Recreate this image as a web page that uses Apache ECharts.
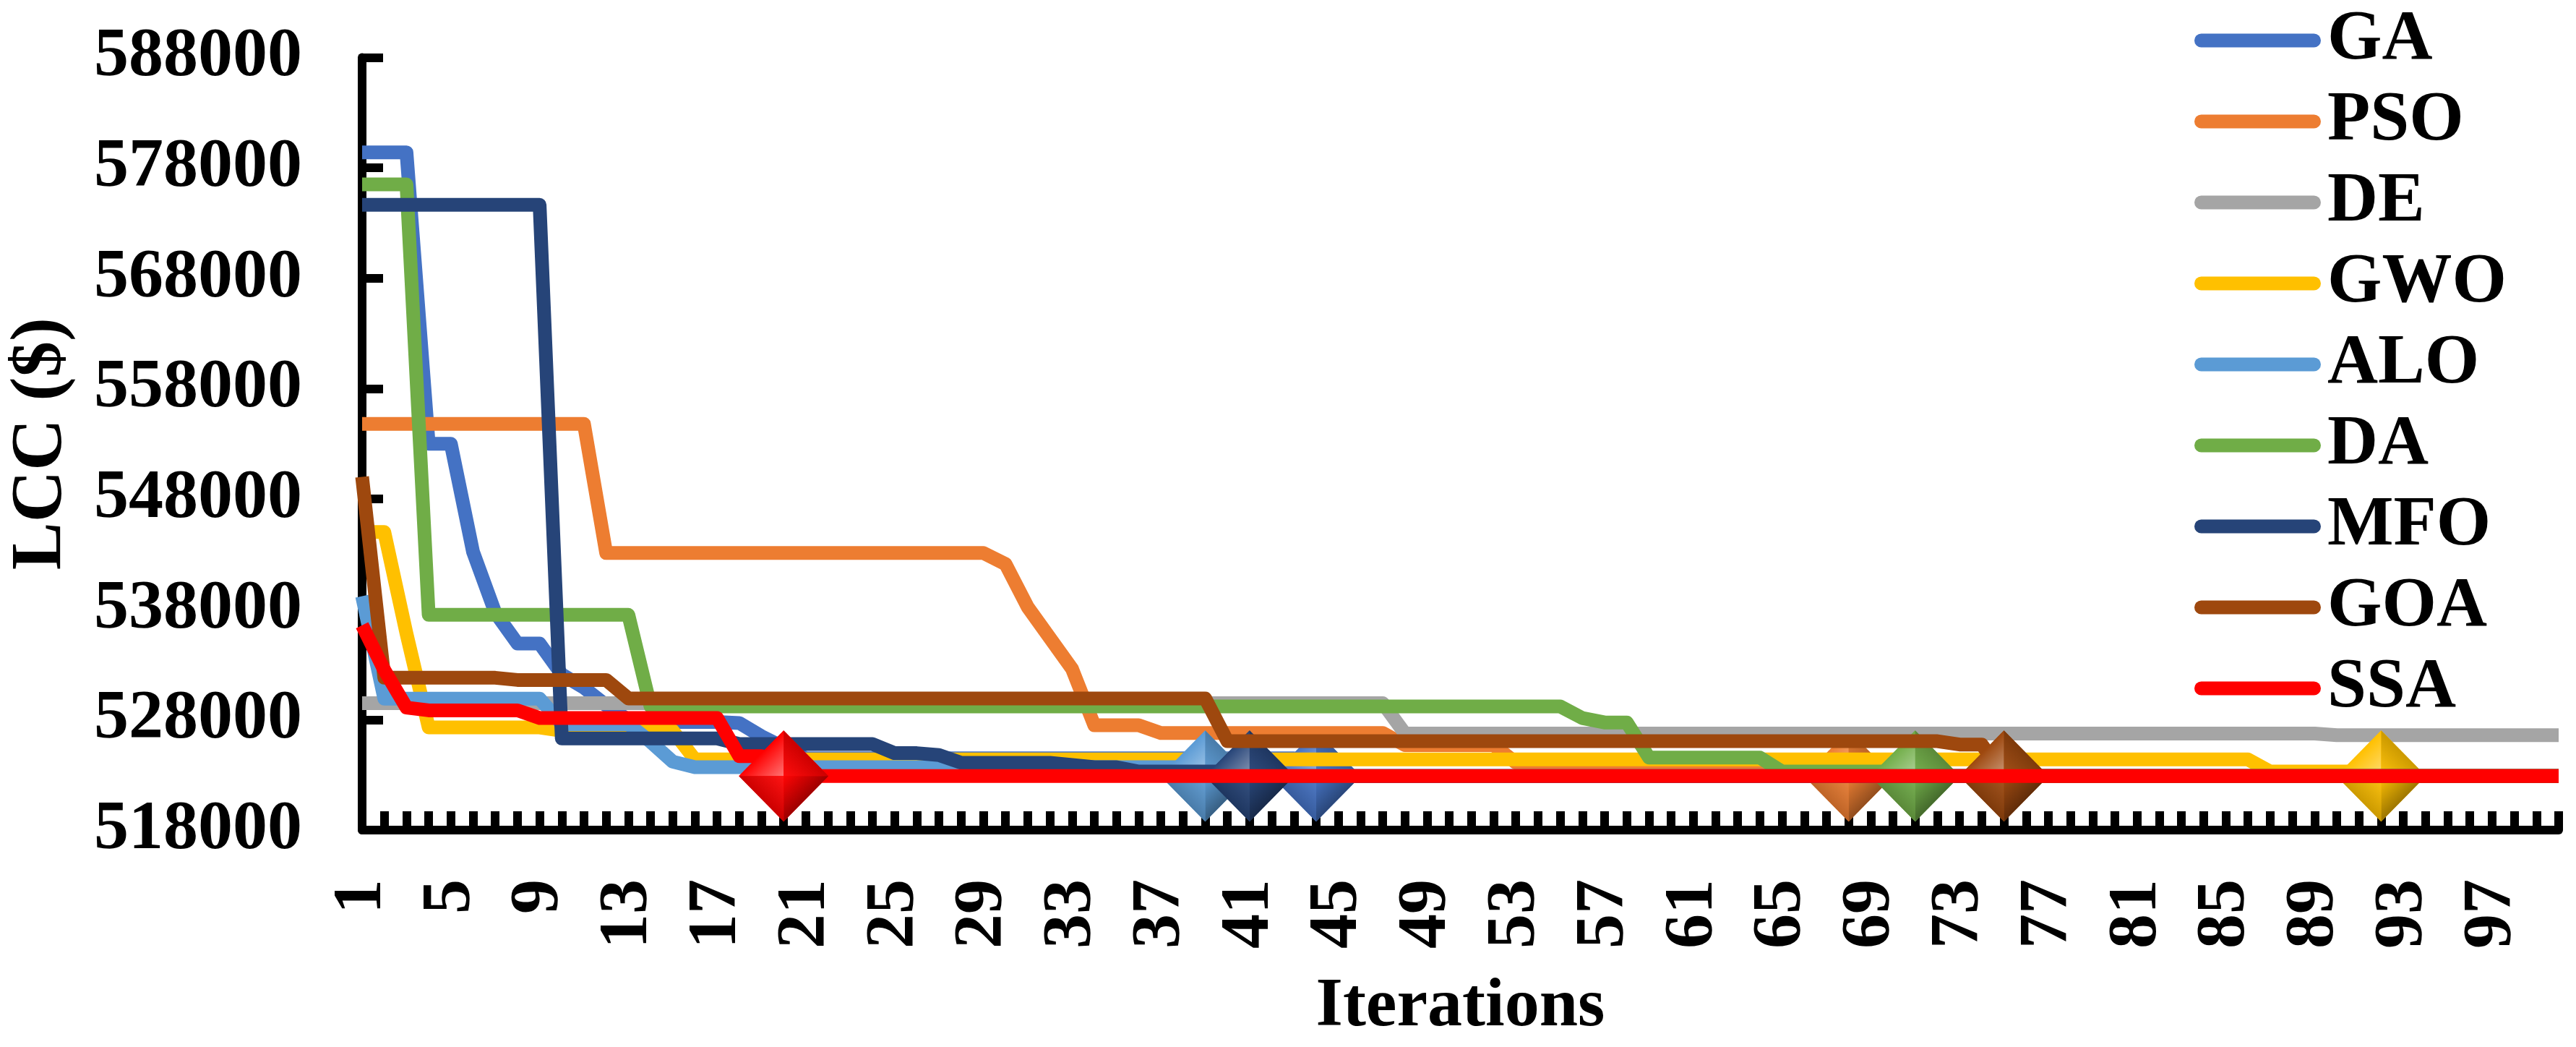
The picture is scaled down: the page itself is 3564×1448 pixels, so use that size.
<!DOCTYPE html>
<html><head><meta charset="utf-8">
<style>html,body{margin:0;padding:0;background:#fff}#c{width:3564px;height:1448px}</style>
<script src="https://cdn.jsdelivr.net/npm/echarts@6/dist/echarts.min.js"></script>
</head><body><div id="c"></div>
<script>
const iterations = ['1','2','3','4','5','6','7','8','9','10','11','12','13','14','15','16','17','18','19','20',
'21','22','23','24','25','26','27','28','29','30','31','32','33','34','35','36','37','38','39','40',
'41','42','43','44','45','46','47','48','49','50','51','52','53','54','55','56','57','58','59','60',
'61','62','63','64','65','66','67','68','69','70','71','72','73','74','75','76','77','78','79','80',
'81','82','83','84','85','86','87','88','89','90','91','92','93','94','95','96','97','98','99','100'];

const GA = [579400,579400,579400,553000,553000,543200,537700,534900,534900,532100,
530900,529300,528000,527800,527800,527800,527800,527700,526500,525500,
524500,524500,524500,524500,524500,524500,524500,524500,524500,524500,
524500,524500,524500,524500,524500,524500,524500,524500,524500,524500,
524500,524500,524500,522900,522900,522900,522900,522900,522900,522900,
522900,522900,522900,522900,522900,522900,522900,522900,522900,522900,
522900,522900,522900,522900,522900,522900,522900,522900,522900,522900,
522900,522900,522900,522900,522900,522900,522900,522900,522900,522900,
522900,522900,522900,522900,522900,522900,522900,522900,522900,522900,
522900,522900,522900,522900,522900,522900,522900,522900,522900,522900];

const PSO = [554800,554800,554800,554800,554800,554800,554800,554800,554800,554800,
554800,543100,543100,543100,543100,543100,543100,543100,543100,543100,
543100,543100,543100,543100,543100,543100,543100,543100,543100,542100,
538200,535400,532600,527500,527500,527500,526800,526800,526800,526800,
526800,526800,526800,526800,526800,526800,526800,525700,525700,525700,
525700,525700,524100,524100,524100,524100,524100,524100,524100,524100,
524100,524100,524100,524100,524100,524100,524100,522900,522900,522900,
522900,522900,522900,522900,522900,522900,522900,522900,522900,522900,
522900,522900,522900,522900,522900,522900,522900,522900,522900,522900,
522900,522900,522900,522900,522900,522900,522900,522900,522900,522900];

const DE = [529500,529500,529500,529500,529500,529500,529500,529500,529500,529500,
529500,529500,529500,529500,529500,529500,529500,529500,529500,529500,
529500,529500,529500,529500,529500,529500,529500,529500,529500,529500,
529500,529500,529500,529500,529500,529500,529500,529500,529500,529500,
529500,529500,529500,529500,529500,529500,529500,526750,526750,526750,
526750,526750,526750,526750,526750,526750,526750,526750,526750,526750,
526750,526750,526750,526750,526750,526750,526750,526750,526750,526750,
526750,526750,526750,526750,526750,526750,526750,526750,526750,526750,
526750,526750,526750,526750,526750,526750,526750,526750,526750,526600,
526600,526600,526600,526600,526600,526600,526600,526600,526600,526600];

const GWO = [545000,545000,535800,527300,527300,527300,527300,527300,527300,527000,
527000,527000,527000,527000,527000,524400,524400,524400,524400,524400,
524400,524400,524400,524400,524400,524400,524400,524400,524400,524400,
524400,524400,524400,524400,524400,524400,524400,524400,524400,524400,
524400,524400,524400,524400,524400,524400,524400,524400,524400,524400,
524400,524400,524400,524400,524400,524400,524400,524400,524400,524400,
524400,524400,524400,524400,524400,524400,524400,524400,524400,524400,
524400,524400,524400,524400,524400,524400,524400,524400,524400,524400,
524400,524400,524400,524400,524400,524400,523300,523300,523300,523300,
523300,522900,522900,522900,522900,522900,522900,522900,522900,522900];

const ALO = [539200,529900,529900,529900,529900,529900,529900,529900,529900,527600,
527600,527600,527600,526000,524200,523700,523700,523700,523700,523700,
523700,523700,523700,523700,523700,523700,523700,523700,523700,523700,
523700,523700,523700,523700,523700,523700,523700,523700,522900,522900,
522900,522900,522900,522900,522900,522900,522900,522900,522900,522900,
522900,522900,522900,522900,522900,522900,522900,522900,522900,522900,
522900,522900,522900,522900,522900,522900,522900,522900,522900,522900,
522900,522900,522900,522900,522900,522900,522900,522900,522900,522900,
522900,522900,522900,522900,522900,522900,522900,522900,522900,522900,
522900,522900,522900,522900,522900,522900,522900,522900,522900,522900];

const DA = [576500,576500,576500,537500,537500,537500,537500,537500,537500,537500,
537500,537500,537500,529200,529200,529200,529200,529200,529200,529200,
529200,529200,529200,529200,529200,529200,529200,529200,529200,529200,
529200,529200,529200,529200,529200,529200,529200,529200,529200,529200,
529200,529200,529200,529200,529200,529200,529200,529200,529200,529200,
529200,529200,529200,529200,529200,528150,527750,527750,524570,524570,
524570,524570,524570,524570,523300,523300,523300,523300,523300,523300,
522900,522900,522900,522900,522900,522900,522900,522900,522900,522900,
522900,522900,522900,522900,522900,522900,522900,522900,522900,522900,
522900,522900,522900,522900,522900,522900,522900,522900,522900,522900];

const MFO = [574650,574650,574650,574650,574650,574650,574650,574650,574650,526300,
526300,526300,526300,526300,526300,526300,526300,525800,525800,525800,
525800,525800,525800,525800,524970,524970,524800,524100,524100,524100,
524100,524100,523900,523700,523700,523300,523300,523300,523300,523300,
522900,522900,522900,522900,522900,522900,522900,522900,522900,522900,
522900,522900,522900,522900,522900,522900,522900,522900,522900,522900,
522900,522900,522900,522900,522900,522900,522900,522900,522900,522900,
522900,522900,522900,522900,522900,522900,522900,522900,522900,522900,
522900,522900,522900,522900,522900,522900,522900,522900,522900,522900,
522900,522900,522900,522900,522900,522900,522900,522900,522900,522900];

const GOA = [550000,531800,531800,531800,531800,531800,531800,531600,531600,531600,
531600,531600,529930,529930,529930,529930,529930,529930,529930,529930,
529930,529930,529930,529930,529930,529930,529930,529930,529930,529930,
529930,529930,529930,529930,529930,529930,529930,529930,529930,526050,
526050,526050,526050,526050,526050,526050,526050,526050,526050,526050,
526050,526050,526050,526050,526050,526050,526050,526050,526050,526050,
526050,526050,526050,526050,526050,526050,526050,526050,526050,526050,
526050,526050,525750,525750,522900,522900,522900,522900,522900,522900,
522900,522900,522900,522900,522900,522900,522900,522900,522900,522900,
522900,522900,522900,522900,522900,522900,522900,522900,522900,522900];

const SSA = [536550,532500,529100,528850,528850,528850,528850,528850,528160,528160,
528160,528160,528160,528160,528160,528160,528160,524700,524700,522900,
522900,522900,522900,522900,522900,522900,522900,522900,522900,522900,
522900,522900,522900,522900,522900,522900,522900,522900,522900,522900,
522900,522900,522900,522900,522900,522900,522900,522900,522900,522900,
522900,522900,522900,522900,522900,522900,522900,522900,522900,522900,
522900,522900,522900,522900,522900,522900,522900,522900,522900,522900,
522900,522900,522900,522900,522900,522900,522900,522900,522900,522900,
522900,522900,522900,522900,522900,522900,522900,522900,522900,522900,
522900,522900,522900,522900,522900,522900,522900,522900,522900,522900];

const seriesNames = ['GA','PSO','DE','GWO','ALO','DA','MFO','GOA','SSA'];
const seriesValues = [GA,PSO,DE,GWO,ALO,DA,MFO,GOA,SSA];
const seriesColors = ['#4472C4','#ED7D31','#A5A5A5','#FFC000','#5B9BD5','#70AD47','#264478','#9E480E','#FF0000'];
// iteration at which each algorithm converges (DE has no marker in the figure)
const convergedAt = [44,68,null,92,39,71,41,75,20];

const FONT = 'Liberation Serif';

function mix(hex, f) { // f<1 darkens, f>1 lightens toward white
  const n = parseInt(hex.slice(1),16), rgb=[n>>16,(n>>8)&255,n&255];
  const out = rgb.map(v => Math.round(f<=1 ? v*f : v+(255-v)*(f-1)));
  return 'rgb('+out.join(',')+')';
}
function grad(x,y,x2,y2,stops){
  return {type:'linear',x,y,x2,y2,colorStops:stops.map((c,i)=>({offset:i/(stops.length-1),color:c}))};
}
function diamondRenderer(color){
  return function(params, api){
    const c = api.coord([api.value(0), api.value(1)]);
    const hw = 62, hh = 63, cx=c[0], cy=c[1];
    const T=[cx,cy-hh], B=[cx,cy+hh], L=[cx-hw,cy], R=[cx+hw,cy], C=[cx,cy];
    const face=(pts,fill)=>({type:'polygon',shape:{points:pts},style:{fill,stroke:null},silent:true});
    return {type:'group',children:[
      face([T,L,B,R],color),
      face([T,L,C],grad(0,0,1,1,[mix(color,0.95),mix(color,1.0),mix(color,1.45)])),
      face([T,R,C],grad(1,0,0,1,[mix(color,0.68),mix(color,0.8),mix(color,1.05)])),
      face([L,B,C],grad(0,1,1,0,[mix(color,0.42),mix(color,0.8),mix(color,1.08)])),
      face([R,B,C],grad(1,1,0,0,[mix(color,0.32),mix(color,0.62),mix(color,1.02)]))
    ]};
  };
}

const series = [];
seriesNames.forEach((name,i)=>{
  series.push({
    type:'line', name, data:seriesValues[i], color:seriesColors[i], z:10+2*i,
    showSymbol:false, symbol:'none', smooth:false,
    lineStyle:{width:19,color:seriesColors[i],join:'round',cap:'butt'},
    animation:false, silent:true
  });
  if(convergedAt[i]!==null){
    const it = convergedAt[i];
    series.push({
      type:'custom', name:name+' converged', z:11+2*i, animation:false, silent:true,
      renderItem:diamondRenderer(seriesColors[i]),
      encode:{x:0,y:1},
      data:[[iterations[it-1], seriesValues[i][it-1]]]
    });
  }
});

const chart = echarts.init(document.getElementById('c'),null,{renderer:'canvas',width:3564,height:1448});
chart.setOption({
  backgroundColor:'#fff',
  animation:false,
  textStyle:{fontFamily:FONT},
  grid:{left:501,right:24,top:79.5,bottom:300,containLabel:false,outerBoundsMode:'none'},
  legend:{
    orient:'vertical',left:3036,top:7.5,padding:0,itemGap:15,
    itemWidth:175,itemHeight:19,
    icon:'path://M9.5 0H165.5A9.5 9.5 0 0 1 165.5 19H9.5A9.5 9.5 0 0 1 9.5 0Z',
    data:seriesNames,selectedMode:false,
    textStyle:{fontFamily:FONT,fontWeight:'bold',fontSize:97,lineHeight:96,color:'#000',padding:[0,0,0,4]}
  },
  xAxis:{
    type:'category',data:iterations,boundaryGap:false,
    name:'Iterations',nameLocation:'middle',nameGap:197,
    nameTextStyle:{fontFamily:FONT,fontWeight:'bold',fontSize:96,color:'#000'},
    axisLine:{show:true,lineStyle:{color:'#000',width:12}},
    axisTick:{show:true,inside:true,length:26,interval:0,alignWithLabel:true,lineStyle:{color:'#000',width:12}},
    axisLabel:{interval:3,rotate:90,margin:68,fontFamily:FONT,fontWeight:'bold',fontSize:96,color:'#000',hideOverlap:false},
    splitLine:{show:false}
  },
  yAxis:{
    type:'value',min:518000,max:588000,interval:10000,
    name:'LCC ($)',nameLocation:'middle',nameGap:444,nameRotate:90,
    nameTextStyle:{fontFamily:FONT,fontWeight:'bold',fontSize:99,color:'#000',verticalAlign:'middle'},
    axisLine:{show:true,lineStyle:{color:'#000',width:12}},
    axisTick:{show:true,inside:true,length:29,lineStyle:{color:'#000',width:12}},
    axisLabel:{margin:83,fontFamily:FONT,fontWeight:'bold',fontSize:96,color:'#000',formatter:(v)=>String(v)},
    splitLine:{show:false}
  },
  series
});
</script></body></html>
